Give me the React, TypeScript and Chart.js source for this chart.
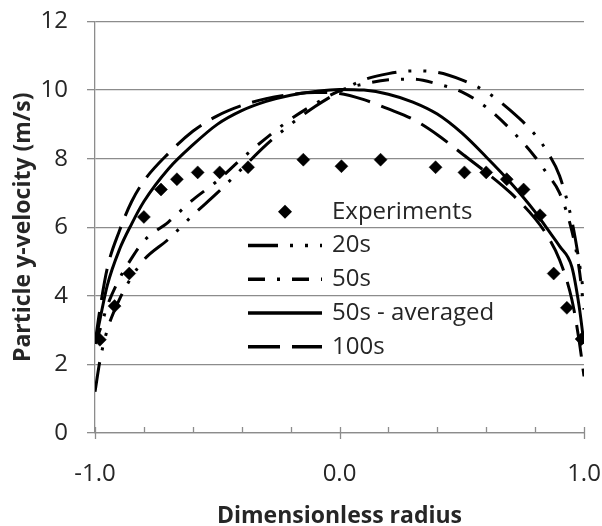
import React, { useEffect, useRef } from 'react';
import { Chart, registerables } from 'chart.js';

Chart.register(...registerables);

// ---- data ----
const radius = [-1, -0.98, -0.95, -0.9, -0.85, -0.8, -0.7, -0.6, -0.5, -0.4, -0.3, -0.2, -0.1, 0, 0.1, 0.2, 0.3, 0.4, 0.5, 0.6, 0.7, 0.8, 0.85, 0.9, 0.95, 0.98, 1];
const vel20s = [1.2, 2.1, 3.0, 3.9, 4.55, 5.05, 5.65, 6.35, 7.0, 7.7, 8.4, 9.0, 9.52, 9.95, 10.3, 10.48, 10.56, 10.52, 10.3, 9.95, 9.4, 8.7, 8.2, 7.5, 6.2, 5.0, 4.0];
const vel50s = [2.6, 3.0, 3.7, 4.5, 5.1, 5.6, 6.15, 6.8, 7.35, 8.0, 8.6, 9.15, 9.6, 9.98, 10.18, 10.3, 10.32, 10.18, 9.95, 9.5, 8.85, 8.05, 7.55, 7.0, 5.9, 4.8, 3.6];
const vel50sAvg = [2.6, 3.3, 4.3, 5.35, 6.1, 6.75, 7.7, 8.4, 9.0, 9.4, 9.67, 9.85, 9.96, 10.02, 10.0, 9.88, 9.65, 9.3, 8.75, 8.05, 7.3, 6.45, 5.95, 5.45, 4.85, 3.7, 2.6];
const vel100s = [2.6, 3.6, 4.8, 5.9, 6.75, 7.35, 8.15, 8.8, 9.25, 9.55, 9.75, 9.87, 9.93, 9.9, 9.72, 9.45, 9.15, 8.7, 8.15, 7.6, 7.0, 6.25, 5.75, 5.05, 3.9, 2.7, 1.65];

const expRadius = [-0.98, -0.92, -0.86, -0.8, -0.73, -0.665, -0.58, -0.49, -0.374, -0.148, 0.008, 0.168, 0.393, 0.511, 0.6, 0.684, 0.753, 0.82, 0.876, 0.93, 0.99];
const expVelocity = [2.72, 3.7, 4.65, 6.3, 7.1, 7.4, 7.6, 7.6, 7.75, 7.97, 7.78, 7.97, 7.75, 7.6, 7.6, 7.4, 7.1, 6.35, 4.65, 3.65, 2.74];

const seriesLabels = ['Experiments', '20s', '50s', '50s - averaged', '100s'];
const xAxisTitle = 'Dimensionless radius';
const yAxisTitle = 'Particle y-velocity (m/s)';

const FONT = '"Open Sans", sans-serif';
const TEXT = '#262626';
const GRID = '#8c8c8c';

const dash20 = [30, 12, 3, 12, 3, 12];
const dash50 = [17, 12, 3, 12];
const dash100 = [32, 12];

const xTickPlugin = {
  id: 'xTickMarks',
  afterDraw(chart: any) {
    const ctx = chart.ctx;
    const xs = chart.scales.x;
    const yb = chart.chartArea.bottom;
    ctx.save();
    ctx.strokeStyle = GRID;
    ctx.lineWidth = 1.3;
    xs.ticks.forEach((t: any) => {
      const v = t.value;
      const px = Math.round(xs.getPixelForValue(v)) + 0.5;
      const major = Math.abs(v - Math.round(v)) < 1e-6;
      ctx.beginPath();
      ctx.moveTo(px, yb - 6);
      ctx.lineTo(px, major ? yb + 6 : yb);
      ctx.stroke();
    });
    ctx.restore();
  },
};

const legendPlugin = {
  id: 'insideLegend',
  afterDraw(chart: any) {
    const ctx = chart.ctx;
    const x0 = 248;
    const x1 = 322;
    const tx = 332;
    const y0 = 211.7;
    const dy = 33.75;
    ctx.save();
    chart.data.datasets.forEach((ds: any, i: number) => {
      const y = y0 + i * dy;
      ctx.fillStyle = '#000';
      ctx.strokeStyle = '#000';
      if (i === 0) {
        const cx = (x0 + x1) / 2;
        const r = 7;
        ctx.beginPath();
        ctx.moveTo(cx, y - r);
        ctx.lineTo(cx + r, y);
        ctx.lineTo(cx, y + r);
        ctx.lineTo(cx - r, y);
        ctx.closePath();
        ctx.fill();
      } else {
        ctx.setLineDash(ds.borderDash || []);
        ctx.lineWidth = 3.5;
        ctx.beginPath();
        ctx.moveTo(x0, y);
        ctx.lineTo(x1, y);
        ctx.stroke();
        ctx.setLineDash([]);
      }
      ctx.fillStyle = TEXT;
      ctx.font = `24px ${FONT}`;
      ctx.textAlign = 'left';
      ctx.textBaseline = 'middle';
      ctx.fillText(seriesLabels[i], tx, y);
    });
    ctx.restore();
  },
};

export default function App() {
  const ref = useRef<HTMLCanvasElement>(null);

  useEffect(() => {
    if (!ref.current) return;
    const pts = (ys: number[]) => radius.map((x, i) => ({ x, y: ys[i] }));
    const lineDs = (label: string, ys: number[], dash: number[]) => ({
      label,
      data: pts(ys),
      showLine: true,
      borderColor: '#000',
      backgroundColor: '#000',
      borderWidth: 3,
      borderDash: dash,
      pointRadius: 0,
      pointHoverRadius: 0,
      cubicInterpolationMode: 'monotone' as const,
      fill: false,
    });

    const chart = new Chart(ref.current, {
      type: 'scatter',
      data: {
        datasets: [
          {
            label: seriesLabels[0],
            data: expRadius.map((x, i) => ({ x, y: expVelocity[i] })),
            pointStyle: 'rectRot',
            pointRadius: 6.5,
            pointBorderWidth: 0.5,
            borderColor: '#000',
            backgroundColor: '#000',
            showLine: false,
          },
          lineDs(seriesLabels[1], vel20s, dash20),
          lineDs(seriesLabels[2], vel50s, dash50),
          lineDs(seriesLabels[3], vel50sAvg, []),
          lineDs(seriesLabels[4], vel100s, dash100),
        ],
      },
      options: {
        responsive: false,
        animation: false,
        events: [],
        layout: { padding: { left: 0, top: 21.5, right: 18, bottom: 0 } },
        plugins: {
          legend: { display: false },
          tooltip: { enabled: false },
        },
        scales: {
          x: {
            type: 'linear',
            min: -1,
            max: 1,
            afterFit: (s: any) => {
              s.height = 93;
              s.paddingLeft = 0;
              s.paddingRight = 0;
            },
            grid: { display: false, drawTicks: false },
            border: { display: true, color: GRID, width: 1.3 },
            ticks: {
              stepSize: 0.2,
              autoSkip: false,
              maxRotation: 0,
              padding: 27,
              color: TEXT,
              font: { family: FONT, size: 24 },
              callback: (v: any) => {
                const n = Number(v);
                return Math.abs(n - Math.round(n)) < 1e-6 ? Math.round(n).toFixed(1) : '';
              },
            },
            title: {
              display: true,
              text: xAxisTitle,
              color: TEXT,
              font: { family: FONT, size: 23, weight: 'bold', lineHeight: 1 },
              padding: { top: 0, bottom: -2 },
            },
          },
          y: {
            type: 'linear',
            min: 0,
            max: 12,
            afterFit: (s: any) => {
              s.width = 95;
              s.paddingTop = 0;
              s.paddingBottom = 0;
            },
            grid: { color: GRID, lineWidth: 1.3, tickLength: 8, drawTicks: true },
            border: { display: true, color: GRID, width: 1.3 },
            ticks: {
              stepSize: 2,
              padding: 19,
              color: TEXT,
              font: { family: FONT, size: 24 },
            },
            title: {
              display: true,
              text: yAxisTitle,
              color: TEXT,
              font: { family: FONT, size: 23, weight: 'bold', lineHeight: 1 },
              padding: { top: 12, bottom: 0 },
            },
          },
        },
      },
      plugins: [xTickPlugin, legendPlugin],
    });
    return () => chart.destroy();
  }, []);

  return (
    <div style={{ position: 'fixed', left: 0, top: 0, width: 602, height: 526, background: '#fff' }}>
      <canvas ref={ref} width={602} height={526} style={{ display: 'block' }} />
    </div>
  );
}
